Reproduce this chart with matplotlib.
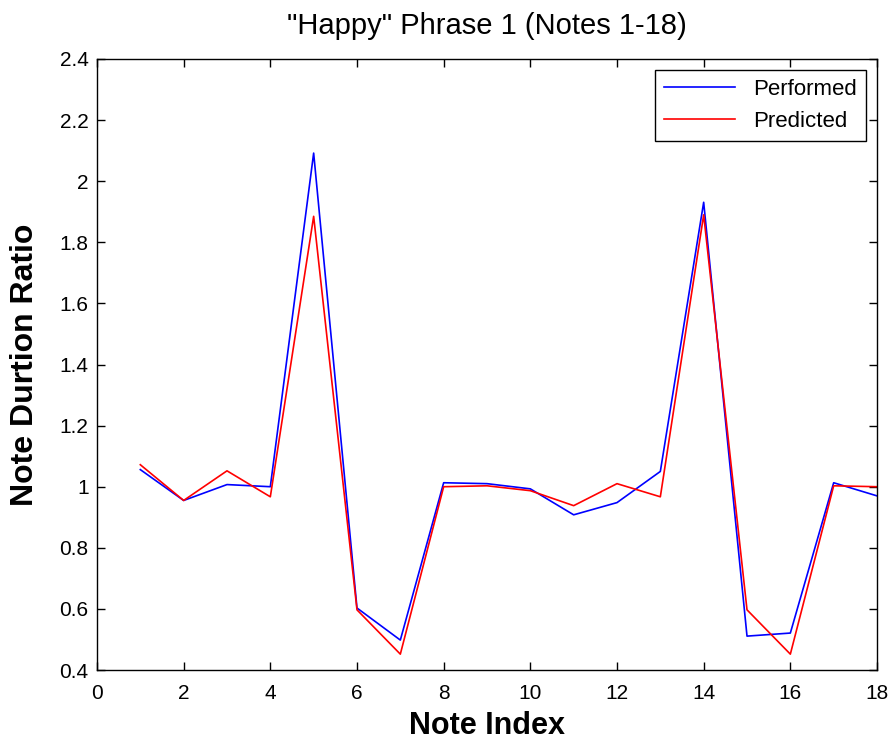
import numpy as np
import matplotlib
matplotlib.use('Agg')
import matplotlib.pyplot as plt

plt.rcParams['font.family'] = ['Liberation Sans', 'DejaVu Sans']

# data
note_index = [1, 2, 3, 4, 5, 6, 7, 8, 9, 10, 11, 12, 13, 14, 15, 16, 17, 18]
performed = [1.056, 0.955, 1.007, 1.0, 2.092, 0.603, 0.498, 1.013, 1.01, 0.993,
             0.908, 0.948, 1.05, 1.931, 0.511, 0.521, 1.013, 0.97]
predicted = [1.072, 0.955, 1.052, 0.967, 1.885, 0.597, 0.452, 1.0, 1.003, 0.987,
             0.938, 1.01, 0.967, 1.89, 0.597, 0.452, 1.003, 1.0]

fig = plt.figure(figsize=(8.93, 7.42), dpi=100)
ax = fig.add_axes([0.1086, 0.097, 0.8735, 0.8235])

ax.plot(note_index, performed, color='blue', lw=1.2, label='Performed')
ax.plot(note_index, predicted, color='red', lw=1.2, label='Predicted')

ax.set_xlim(0, 18)
ax.set_ylim(0.4, 2.4)
ax.set_xticks(np.arange(0, 19, 2))
ax.set_yticks(np.arange(0.4, 2.41, 0.2))
ax.set_yticklabels(['0.4', '0.6', '0.8', '1', '1.2', '1.4', '1.6', '1.8', '2', '2.2', '2.4'])
ax.tick_params(direction='in', top=True, right=True, labelsize=15, length=6, width=1)
ax.tick_params(axis='x', pad=10)
ax.tick_params(axis='y', pad=6)
for sp in ax.spines.values():
    sp.set_linewidth(1)

ax.set_title('"Happy" Phrase 1 (Notes 1-18)', fontsize=21, pad=18)
ax.set_xlabel('Note Index', fontsize=22, fontweight='bold', labelpad=6)
ax.set_ylabel('Note Durtion Ratio', fontsize=23, fontweight='bold', labelpad=14)

leg = ax.legend(loc='upper right', fontsize=16, fancybox=False, framealpha=1,
                edgecolor='black', borderaxespad=0.5, handlelength=3.2)
leg.get_frame().set_linewidth(1)

fig.savefig('out.png', dpi=100)
